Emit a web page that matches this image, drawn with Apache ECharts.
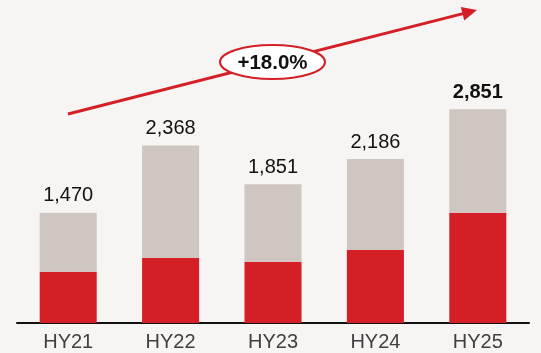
<!DOCTYPE html>
<html>
<head>
<meta charset="utf-8">
<style>
  html, body { margin: 0; padding: 0; background: #f7f5f3; }
  #chart { width: 541px; height: 353px; }
</style>
<script src="https://cdn.jsdelivr.net/npm/echarts@6/dist/echarts.min.js"></script>
</head>
<body>
<div id="chart"></div>
<script>
// Half-year totals and the red portion of each bar
const categories = ['HY21', 'HY22', 'HY23', 'HY24', 'HY25'];
const totals = [1470, 2368, 1851, 2186, 2851];
const redPart = [684, 871, 817, 977, 1470];
const growthLabel = '+18.0%';

const greyPart = totals.map((t, i) => t - redPart[i]);

const chart = echarts.init(document.getElementById('chart'));
const FONT = '"Liberation Sans", Arial, sans-serif';

chart.setOption({
  backgroundColor: '#f7f5f3',
  animation: false,
  grid: { left: 17, right: 12, top: 23, bottom: 30 },
  xAxis: {
    type: 'category',
    data: categories,
    axisLine: { lineStyle: { color: '#111', width: 2 } },
    axisTick: { show: false },
    axisLabel: { color: '#404040', fontSize: 20, fontFamily: FONT, margin: 9 }
  },
  yAxis: {
    type: 'value',
    min: 0,
    max: 4000,
    show: false,
    splitLine: { show: false }
  },
  series: [
    {
      type: 'bar',
      stack: 'total',
      data: redPart,
      barWidth: '55.7%',
      itemStyle: { color: '#d41f26' }
    },
    {
      type: 'bar',
      stack: 'total',
      data: greyPart,
      barWidth: '55.7%',
      itemStyle: { color: '#cfc6c1' },
      label: {
        show: true,
        position: 'top',
        distance: 7,
        fontFamily: FONT,
        fontSize: 20,
        color: '#111',
        formatter: p => {
          const s = totals[p.dataIndex].toLocaleString('en-US');
          return p.dataIndex === totals.length - 1 ? '{b|' + s + '}' : s;
        },
        rich: {
          b: { fontFamily: FONT, fontSize: 20, fontWeight: 'bold', color: '#111' }
        }
      }
    }
  ],
  graphic: [
    {
      type: 'line',
      shape: { x1: 68, y1: 114, x2: 463, y2: 13.6 },
      style: { stroke: '#d41f26', lineWidth: 3 },
      z: 10
    },
    {
      type: 'polygon',
      shape: { points: [[477, 10], [460.8, 6.9], [464.2, 20.5]] },
      style: { fill: '#d41f26' },
      z: 10
    },
    {
      type: 'ellipse',
      shape: { cx: 272.5, cy: 62, rx: 52.5, ry: 17 },
      style: { fill: '#ffffff', stroke: '#d41f26', lineWidth: 2 },
      z: 11
    },
    {
      type: 'text',
      x: 272.5,
      y: 63,
      style: {
        text: growthLabel,
        fontFamily: FONT,
        fontSize: 20.5,
        fontWeight: 'bold',
        fill: '#111',
        align: 'center',
        verticalAlign: 'middle'
      },
      z: 12
    }
  ]
});
</script>
</body>
</html>
